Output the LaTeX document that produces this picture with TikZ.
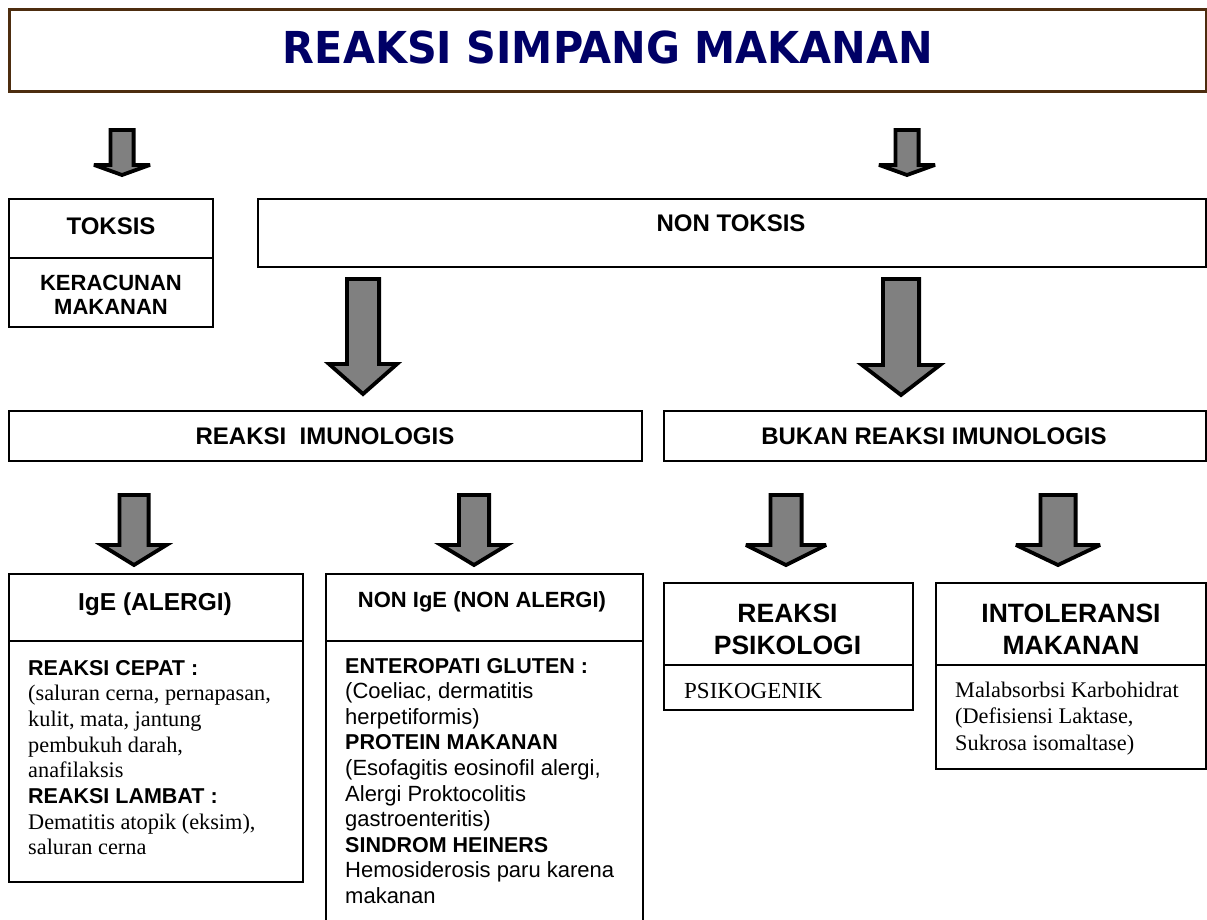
\documentclass[tikz,border=0pt]{standalone}
\usepackage{fontspec}
\usepackage{graphicx}
\setmainfont{Liberation Serif}
\setsansfont{Liberation Sans}
\newfontfamily\titlefont{DejaVu Sans}
\usetikzlibrary{calc}
\definecolor{titleblue}{RGB}{0,0,102}
\definecolor{framebrown}{RGB}{77,45,15}
\definecolor{arrowgray}{RGB}{128,128,128}
\tikzset{
  box/.style={draw=black, line width=1.6pt, inner sep=0pt, anchor=north west},
  hd/.style={font=\sffamily\bfseries\fontsize{24}{24}\selectfont, inner sep=0pt, anchor=base},
  hdbig/.style={font=\sffamily\bfseries\fontsize{26.5}{26.5}\selectfont, inner sep=0pt, anchor=base},
  serifline/.style={font=\rmfamily\fontsize{22.3}{22.3}\selectfont, inner sep=0pt, anchor=base west},
  sansline/.style={font=\sffamily\fontsize{22}{22}\selectfont, inner sep=0pt, anchor=base west},
  boldline/.style={font=\sffamily\bfseries\fontsize{21.5}{21.5}\selectfont, inner sep=0pt, anchor=base west},
  blockarrow/.style={draw=black, fill=arrowgray, line width=3.8pt, line join=miter, miter limit=4},
}
\newcommand\blkarrow[6]{% cx, shaft half, head half, top, head top, tip
  \draw[blockarrow] (#1-#2,#4) -- (#1+#2,#4) -- (#1+#2,#5) -- (#1+#3,#5) -- (#1,#6) -- (#1-#3,#5) -- (#1-#2,#5) -- cycle;}
\begin{document}
\begin{tikzpicture}[x=1pt,y=-1pt]
\useasboundingbox[fill=white] (0,0) rectangle (1207,919);

% title
\node[box, draw=framebrown, line width=3.2pt, minimum width=1197pt, minimum height=82pt] (title) at (8,8) {};
\node[inner sep=0pt, anchor=base, text=titleblue, font=\titlefont\bfseries\fontsize{44}{44}\selectfont] (titletext) at (608,63.5) {\scalebox{0.94}[1]{REAKSI SIMPANG MAKANAN}};

% arrows row 1
\blkarrow{122}{11.6}{28}{129.9}{164.9}{175}
\blkarrow{907}{11.6}{28}{129.9}{164.9}{175}

% toksis
\node[box, minimum width=204pt, minimum height=128pt] (toksis) at (8,198) {};
\draw[line width=1.6pt] ($(toksis.north west)+(0,60)$) -- ($(toksis.north east)+(0,60)$);
\node[hd] (toksisT) at (111,234) {TOKSIS};
\node[hd, font=\sffamily\bfseries\fontsize{22}{22}\selectfont] (kerac1) at (111,290) {KERACUNAN};
\node[hd, font=\sffamily\bfseries\fontsize{22}{22}\selectfont] (kerac2) at (111,314) {MAKANAN};

% non toksis
\node[box, minimum width=948pt, minimum height=68pt] (nontoksis) at (257,198) {};
\node[hd] (nontoksisT) at (731,231) {NON TOKSIS};

% arrows row 2
\blkarrow{363}{16.1}{34}{279}{364}{394}
\blkarrow{901}{18.1}{39}{279}{365}{395}

% imunologis
\node[box, minimum width=633pt, minimum height=50pt] (imun) at (8,410) {};
\node[hd] (imunT) at (325,444) {REAKSI\ \ IMUNOLOGIS};
\node[box, minimum width=542pt, minimum height=50pt] (bukan) at (663,410) {};
\node[hd] (bukanT) at (934,444) {BUKAN REAKSI IMUNOLOGIS};

% arrows row 3
\blkarrow{134}{14.6}{32.5}{495}{545}{565}
\blkarrow{474}{15.1}{33}{495}{545}{565}
\blkarrow{786}{15.6}{40}{495}{545}{565}
\blkarrow{1058}{17.6}{42}{495}{545}{565}

% IgE box
\node[box, minimum width=294pt, minimum height=308pt] (ige) at (8,573) {};
\draw[line width=1.6pt] ($(ige.north west)+(0,68)$) -- ($(ige.north east)+(0,68)$);
\node[hd, font=\sffamily\bfseries\fontsize{24.5}{24.5}\selectfont] (igeT) at (155,610) {IgE (ALERGI)};
\node[boldline]  (ige1) at (28,675)   {REAKSI CEPAT :};
\node[serifline] (ige2) at (28,700.7) {(saluran cerna, pernapasan,};
\node[serifline] (ige3) at (28,726.4) {kulit, mata, jantung};
\node[serifline] (ige4) at (28,752.1) {pembukuh darah,};
\node[serifline] (ige5) at (28,777.8) {anafilaksis};
\node[boldline]  (ige6) at (28,803.5) {REAKSI LAMBAT :};
\node[serifline] (ige7) at (28,829.2) {Dematitis atopik (eksim),};
\node[serifline] (ige8) at (28,854.9) {saluran cerna};

% non IgE box
\node[box, minimum width=317pt, minimum height=360pt] (nonige) at (325,573) {};
\draw[line width=1.6pt] ($(nonige.north west)+(0,68)$) -- ($(nonige.north east)+(0,68)$);
\node[hd, font=\sffamily\bfseries\fontsize{22}{22}\selectfont] (nonigeT) at (482,607) {NON IgE (NON ALERGI)};
\node[boldline] (nig1)  at (345,673)   {ENTEROPATI GLUTEN :};
\node[sansline] (nig2)  at (345,698.6) {(Coeliac, dermatitis};
\node[sansline] (nig3)  at (345,724.2) {herpetiformis)};
\node[boldline] (nig4)  at (345,749.8) {PROTEIN MAKANAN};
\node[sansline] (nig5)  at (345,775.4) {(Esofagitis eosinofil alergi,};
\node[sansline] (nig6)  at (345,801.0) {Alergi Proktocolitis};
\node[sansline] (nig7)  at (345,826.6) {gastroenteritis)};
\node[boldline] (nig8)  at (345,852.2) {SINDROM HEINERS};
\node[sansline] (nig9)  at (345,877.8) {Hemosiderosis paru karena};
\node[sansline] (nig10) at (345,903.4) {makanan};

% psikologi box
\node[box, minimum width=249pt, minimum height=127pt] (psiko) at (663,582) {};
\draw[line width=1.6pt] ($(psiko.north west)+(0,83)$) -- ($(psiko.north east)+(0,83)$);
\node[hdbig] (psikoT1) at (787.5,622) {REAKSI};
\node[hdbig] (psikoT2) at (787.5,654) {PSIKOLOGI};
\node[serifline, font=\rmfamily\fontsize{23}{23}\selectfont] (psikoB) at (684,698) {PSIKOGENIK};

% intoleransi box
\node[box, minimum width=270pt, minimum height=186pt] (intol) at (935,582) {};
\draw[line width=1.6pt] ($(intol.north west)+(0,83)$) -- ($(intol.north east)+(0,83)$);
\node[hdbig] (intolT1) at (1071,622) {INTOLERANSI};
\node[hdbig] (intolT2) at (1071,654) {MAKANAN};
\node[serifline] (intol1) at (955,697) {Malabsorbsi Karbohidrat};
\node[serifline] (intol2) at (955,723.5) {(Defisiensi Laktase,};
\node[serifline] (intol3) at (955,750) {Sukrosa isomaltase)};
\end{tikzpicture}
\end{document}
